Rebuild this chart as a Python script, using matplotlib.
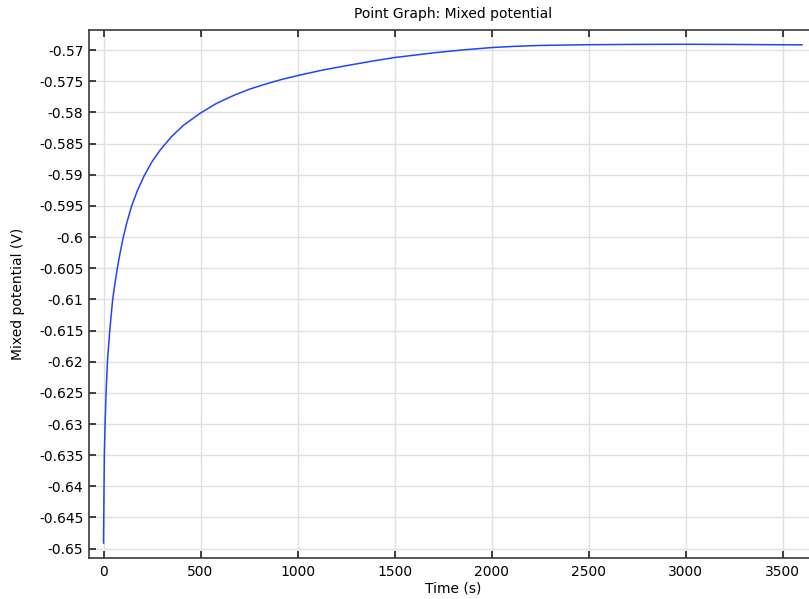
import matplotlib
matplotlib.use("Agg")
import matplotlib.pyplot as plt
from matplotlib.ticker import FuncFormatter

plt.rcParams['font.family'] = ['DejaVu Sans']
plt.rcParams['axes.unicode_minus'] = False

title = "Point Graph: Mixed potential"
x_label = "Time (s)"
y_label = "Mixed potential (V)"

time_s = [0, 0.3, 1, 2.5, 4, 8, 13, 20, 32, 47, 58, 71, 85, 102, 120, 145,
          175, 209, 250, 293, 350, 411, 455, 500, 580, 669, 750, 841, 920,
          1000, 1130, 1271, 1380, 1500, 1700, 1850, 2000, 2120, 2250, 2500,
          2750, 3000, 3250, 3500, 3600]
potential_v = [-0.6491, -0.6472, -0.6450, -0.6400, -0.6350, -0.6300, -0.6250,
               -0.6200, -0.6150, -0.6100, -0.6076, -0.6050, -0.6026, -0.6000,
               -0.5977, -0.5950, -0.5925, -0.5902, -0.5879, -0.5860, -0.5839,
               -0.5821, -0.5811, -0.5801, -0.5786, -0.5773, -0.5763, -0.5754,
               -0.5747, -0.5741, -0.5732, -0.5724, -0.5718, -0.5712, -0.57045,
               -0.56998, -0.5696, -0.56940, -0.56926, -0.56914, -0.56909,
               -0.56907, -0.56910, -0.56915, -0.56916]

x_ticks = [0, 500, 1000, 1500, 2000, 2500, 3000, 3500]
y_ticks = [-0.65, -0.645, -0.64, -0.635, -0.63, -0.625, -0.62, -0.615, -0.61,
           -0.605, -0.6, -0.595, -0.59, -0.585, -0.58, -0.575, -0.57]

fig = plt.figure(figsize=(8.09, 5.99), dpi=100)
ax = fig.add_axes([89/809, 1 - 558/599, (816.5 - 89)/809, (558 - 29.5)/599])

ax.plot(time_s, potential_v, color='#1e46ff', lw=1.1, zorder=3,
        solid_joinstyle='round')

ax.set_xlim(-75, 3675)
ax.set_ylim(-0.6515, -0.5667)
ax.set_xticks(x_ticks)
ax.set_yticks(y_ticks)
ax.yaxis.set_major_formatter(FuncFormatter(lambda v, p: '%g' % round(v, 4)))
ax.xaxis.set_major_formatter(FuncFormatter(lambda v, p: '%d' % v))

ax.grid(True, color='#e0e0e0', lw=1.0, zorder=0)
ax.set_axisbelow(True)

for s in ax.spines.values():
    s.set_color('#3a3a3a')
    s.set_linewidth(1.2)

ax.tick_params(axis='both', direction='in', length=5, width=1.2, color='#222222',
               labelsize=10, labelcolor='black')
ax.tick_params(axis='x', top=True, bottom=True, pad=5)
ax.tick_params(axis='y', left=True, right=False, pad=4)

ax.set_title(title, fontsize=10, pad=8)
ax.set_xlabel(x_label, fontsize=10, labelpad=2)
ax.set_ylabel(y_label, fontsize=10, labelpad=10)

fig.savefig("out.png", dpi=100)
